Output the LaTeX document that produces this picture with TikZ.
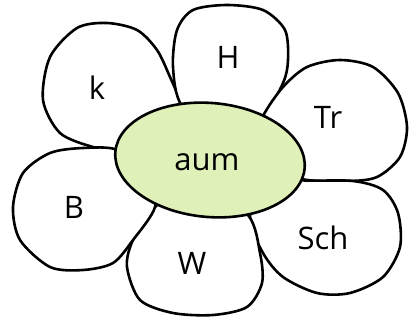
\documentclass[tikz,border=0pt]{standalone}
\usepackage{fontspec}
\setmainfont{Open Sans}
\usetikzlibrary{positioning, calc}
\definecolor{centregreen}{RGB}{223,241,185}

\begin{document}
\begin{tikzpicture}[x=1pt, y=-1pt,
  petal/.style={draw=black, fill=white, line width=2.6pt, line join=round},
  lab/.style={font=\fontsize{31}{34}\selectfont}]
\useasboundingbox (0,0) rectangle (411,324);
% Petals - drawn first, the centre covers their inner ends
\draw[petal] plot[smooth cycle] coordinates {(118,150) (93,147) (60,133) (43,100) (50,57) (77,28) (107,23) (137,30) (157,50) (170,77) (182,106) (190,140)};
\draw[petal] plot[smooth cycle] coordinates {(182,106) (173,67) (177,30) (193,10) (227,5) (263,10) (285,30) (288,60) (283,83) (263,116) (225,140)};
\draw[petal] plot[smooth cycle] coordinates {(263,116) (283,87) (307,67) (340,60) (373,67) (398,93) (407,127) (400,157) (377,177) (347,181) (298,178) (250,150)};
\draw[petal] plot[smooth cycle] coordinates {(298,180) (353,181) (383,190) (398,213) (400,247) (383,277) (350,293) (317,293) (283,277) (263,253) (250,218) (260,170)};
\draw[petal] plot[smooth cycle] coordinates {(248,215) (260,253) (262,283) (247,307) (213,315) (173,313) (140,300) (127,267) (133,240) (155,207) (200,180)};
\draw[petal] plot[smooth cycle] coordinates {(155,207) (133,240) (113,263) (83,270) (50,267) (20,240) (13,207) (23,173) (50,153) (83,148) (118,150) (150,175)};
% Centre
\draw[petal, fill=centregreen, rotate around={-5:(210,160)}] (210,160) ellipse [x radius=95, y radius=57];
\node[lab] (centre) at (207,162) {aum};
% Labels
\node[lab] (k) at (97,88) {k};
\node[lab] (H) at (228,57) {H};
\node[lab] (Tr) at (328,117) {Tr};
\node[lab] (B) at (74,207) {B};
\node[lab] (W) at (192,263) {W};
\node[lab] (Sch) at (323,238) {Sch};
\end{tikzpicture}
\end{document}
